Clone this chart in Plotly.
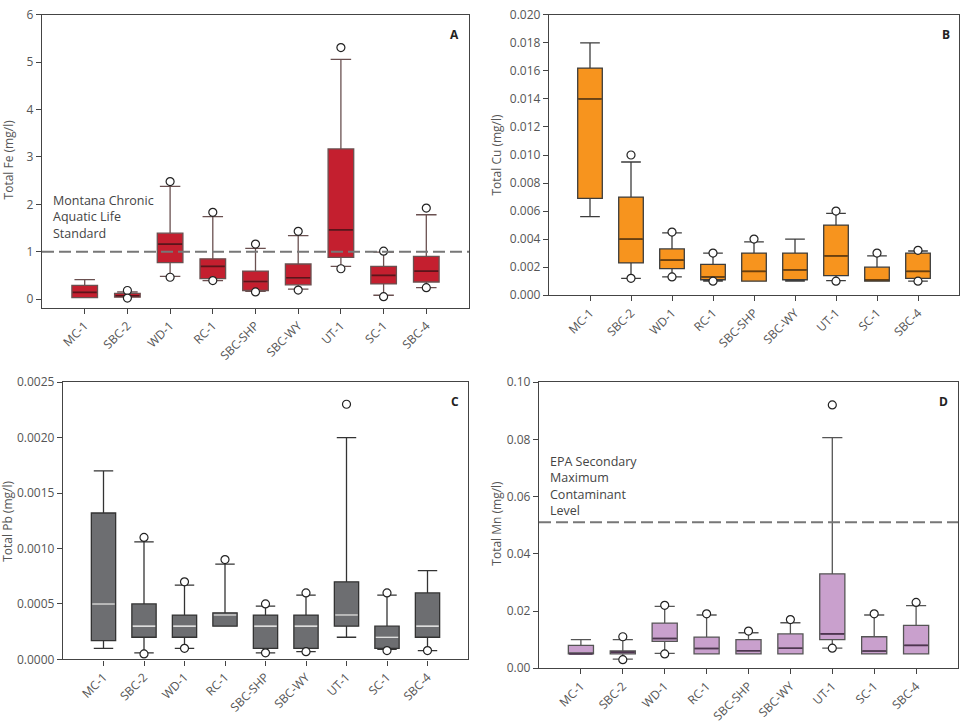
import plotly.graph_objects as go

sites = ["MC-1", "SBC-2", "WD-1", "RC-1", "SBC-SHP", "SBC-WY", "UT-1", "SC-1", "SBC-4"]

# Panel A - Total Fe (mg/l)
fe_q1 = [0.03, 0.04, 0.77, 0.43, 0.18, 0.30, 0.88, 0.32, 0.36]
fe_med = [0.14, 0.07, 1.16, 0.69, 0.37, 0.45, 1.46, 0.50, 0.59]
fe_q3 = [0.29, 0.12, 1.39, 0.85, 0.59, 0.74, 3.17, 0.69, 0.90]
fe_lo = [0.03, 0.04, 0.48, 0.39, 0.16, 0.21, 0.69, 0.08, 0.24]
fe_hi = [0.41, 0.15, 2.38, 1.74, 1.07, 1.34, 5.06, 0.99, 1.78]
fe_out = [[], [0.18, 0.02], [2.48, 0.46], [1.83, 0.39], [1.16, 0.15], [1.43, 0.19], [5.31, 0.64], [1.01, 0.05], [1.92, 0.24]]
fe_standard = 1.0

# Panel B - Total Cu (mg/l)
cu_q1 = [0.0069, 0.0023, 0.0019, 0.0011, 0.0010, 0.0011, 0.0014, 0.0010, 0.0012]
cu_med = [0.0140, 0.0040, 0.0025, 0.0013, 0.0017, 0.0018, 0.0028, 0.0011, 0.0017]
cu_q3 = [0.0162, 0.0070, 0.0033, 0.0022, 0.0030, 0.0030, 0.0050, 0.0020, 0.0030]
cu_lo = [0.0056, 0.0012, 0.0013, 0.0010, 0.0010, 0.0010, 0.00104, 0.0010, 0.0010]
cu_hi = [0.0180, 0.0095, 0.00445, 0.0030, 0.0038, 0.0040, 0.00584, 0.0028, 0.00315]
cu_out = [[], [0.0100, 0.0012], [0.0045, 0.0013], [0.0030, 0.0010], [0.0040], [], [0.0060, 0.0010], [0.0030], [0.0032, 0.0010]]

# Panel C - Total Pb (mg/l)
pb_q1 = [0.00017, 0.0002, 0.0002, 0.0003, 0.0001, 0.0001, 0.0003, 0.0001, 0.0002]
pb_med = [0.0005, 0.0003, 0.0003, 0.0004, 0.0003, 0.0003, 0.0004, 0.0002, 0.0003]
pb_q3 = [0.00132, 0.0005, 0.0004, 0.00042, 0.0004, 0.0004, 0.0007, 0.0003, 0.0006]
pb_lo = [0.0001, 0.00006, 0.0001, 0.0003, 0.00006, 0.00007, 0.0002, 0.00009, 0.00008]
pb_hi = [0.0017, 0.00106, 0.00067, 0.00086, 0.00048, 0.00058, 0.0020, 0.00058, 0.0008]
pb_out = [[], [0.0011, 0.00005], [0.0007, 0.0001], [0.0009], [0.0005, 0.00006], [0.0006, 0.00007], [0.0023], [0.0006, 0.00008], [0.00008]]

# Panel D - Total Mn (mg/l)
mn_q1 = [0.005, 0.005, 0.0094, 0.005, 0.005, 0.005, 0.010, 0.005, 0.005]
mn_med = [0.005, 0.0056, 0.0104, 0.0069, 0.0061, 0.007, 0.012, 0.006, 0.008]
mn_q3 = [0.008, 0.0061, 0.0158, 0.0109, 0.010, 0.012, 0.033, 0.011, 0.015]
mn_lo = [0.005, 0.0032, 0.0052, 0.005, 0.005, 0.005, 0.007, 0.005, 0.005]
mn_hi = [0.010, 0.010, 0.0216, 0.0186, 0.0124, 0.0159, 0.0806, 0.0186, 0.0219]
mn_out = [[], [0.011, 0.003], [0.022, 0.005], [0.019], [0.013], [0.017], [0.092, 0.007], [0.019], [0.023]]
mn_standard = 0.051

FONT = "Open Sans"
TXT = "#555555"
W, H = 960, 728

panels = [
    dict(key="", q1=fe_q1, med=fe_med, q3=fe_q3, lo=fe_lo, hi=fe_hi, out=fe_out,
         fill="#C41F2F", line="#6a5050", medc="#5e1219", letter="A",
         title="Total Fe (mg/l)", rng=[-0.186, 6], dtick=1, fmt="d",
         px=(42, 469, 6, 306), tpos=(8, 154)),
    dict(key="2", q1=cu_q1, med=cu_med, q3=cu_q3, lo=cu_lo, hi=cu_hi, out=cu_out,
         fill="#F7941E", line="#3c3c3c", medc="#6b3f0c", letter="B",
         title="Total Cu (mg/l)", rng=[0, 0.02], dtick=0.002, fmt=".3f",
         px=(549, 959, 6, 293), tpos=(497, 149)),
    dict(key="3", q1=pb_q1, med=pb_med, q3=pb_q3, lo=pb_lo, hi=pb_hi, out=pb_out,
         fill="#6D6E71", line="#333333", medc="#dddddd", letter="C",
         title="Total Pb (mg/l)", rng=[0, 0.0025], dtick=0.0005, fmt=".4f",
         px=(63, 468, 382, 666), tpos=(8, 525)),
    dict(key="4", q1=mn_q1, med=mn_med, q3=mn_q3, lo=mn_lo, hi=mn_hi, out=mn_out,
         fill="#C9A0CD", line="#555555", medc="#4e3450", letter="D",
         title="Total Mn (mg/l)", rng=[0, 0.10], dtick=0.02, fmt=".2f",
         px=(539, 958, 382, 675), tpos=(497, 527)),
]

fig = go.Figure()
layout = dict(width=W, height=H, margin=dict(l=0, r=0, t=0, b=0),
              paper_bgcolor="white", plot_bgcolor="white", showlegend=False,
              font=dict(family=FONT, size=12, color=TXT))
annotations = []
shapes = []
BW = 0.6
pos = list(range(len(sites)))

for p in panels:
    k = p["key"]
    xa, ya = "x" + k, "y" + k
    fig.add_trace(go.Box(
        x=pos, q1=p["q1"], median=p["med"], q3=p["q3"],
        lowerfence=p["lo"], upperfence=p["hi"],
        width=BW, whiskerwidth=0.8, boxpoints=False,
        fillcolor=p["fill"], line=dict(color=p["line"], width=1.3),
        xaxis=xa, yaxis=ya, hoverinfo="skip"))
    # median lines in their own colour
    mx, my = [], []
    for i, m in zip(pos, p["med"]):
        mx += [i - BW / 2 + 0.02, i + BW / 2 - 0.02, None]
        my += [m, m, None]
    fig.add_trace(go.Scatter(x=mx, y=my, mode="lines",
                             line=dict(color=p["medc"], width=1.6),
                             xaxis=xa, yaxis=ya, hoverinfo="skip"))
    # outliers
    ox, oy = [], []
    for i, vals in zip(pos, p["out"]):
        for v in vals:
            ox.append(i)
            oy.append(v)
    fig.add_trace(go.Scatter(x=ox, y=oy, mode="markers",
                             marker=dict(symbol="circle", size=8, color="white",
                                         line=dict(color="#222222", width=1.2)),
                             xaxis=xa, yaxis=ya, hoverinfo="skip", cliponaxis=False))
    x0, x1, yt, yb = p["px"]
    layout["xaxis" + k] = dict(
        domain=[x0 / W, x1 / W], anchor=ya, range=[-1, len(sites)],
        tickvals=pos, ticktext=sites, tickangle=-45,
        ticks="outside", ticklen=5, tickcolor="#444", tickwidth=1.2,
        showline=True, linecolor="#444", linewidth=1.3, mirror=True,
        showgrid=False, zeroline=False, tickfont=dict(size=12, color=TXT))
    layout["yaxis" + k] = dict(
        domain=[1 - yb / H, 1 - yt / H], anchor=xa, range=p["rng"],
        tick0=0, dtick=p["dtick"], tickformat=p["fmt"],
        ticks="outside", ticklen=5, tickcolor="#444", tickwidth=1.2,
        showline=True, linecolor="#444", linewidth=1.3, mirror=True,
        showgrid=False, zeroline=False, tickfont=dict(size=12, color=TXT))
    annotations.append(dict(text="<b>" + p["letter"] + "</b>", xref=xa + " domain",
                            yref=ya + " domain", x=0.982, y=0.968, xanchor="right",
                            yanchor="top", showarrow=False,
                            font=dict(size=12, color="#222")))
    tx, ty = p["tpos"]
    annotations.append(dict(text=p["title"], xref="paper", yref="paper",
                            x=tx / W, y=1 - ty / H, xanchor="center", yanchor="middle",
                            textangle=-90, showarrow=False,
                            font=dict(size=12, color=TXT)))

# standard lines
shapes.append(dict(type="line", xref="x domain", yref="y", x0=0, x1=1,
                   y0=fe_standard, y1=fe_standard, layer="above",
                   line=dict(color="#777777", width=2, dash="12px,5px")))
shapes.append(dict(type="line", xref="x4 domain", yref="y4", x0=0, x1=1,
                   y0=mn_standard, y1=mn_standard, layer="above",
                   line=dict(color="#777777", width=2, dash="12px,5px")))
annotations.append(dict(text="Montana Chronic<br>Aquatic Life<br>Standard",
                        xref="x domain", yref="y", x=0.022, y=1.73,
                        xanchor="left", yanchor="middle", align="left",
                        showarrow=False, font=dict(size=12.5, color="#444")))
annotations.append(dict(text="EPA Secondary<br>Maximum<br>Contaminant<br>Level",
                        xref="x4 domain", yref="y4", x=0.022, y=0.0638,
                        xanchor="left", yanchor="middle", align="left",
                        showarrow=False, font=dict(size=12.5, color="#444")))

layout["annotations"] = annotations
layout["shapes"] = shapes
fig.update_layout(**layout)
fig.write_html("out.html")
